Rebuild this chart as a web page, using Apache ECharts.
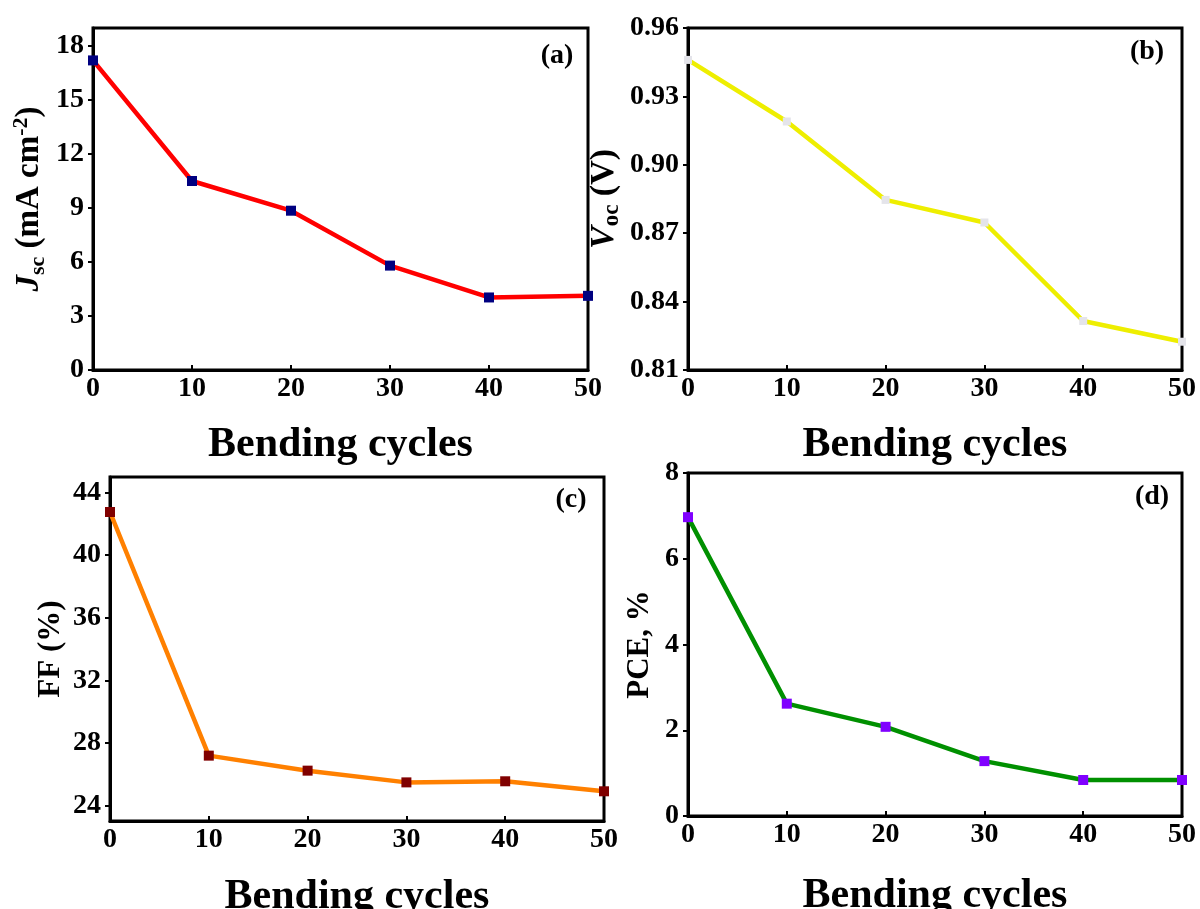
<!DOCTYPE html>
<html>
<head>
<meta charset="utf-8">
<script src="https://cdn.jsdelivr.net/npm/echarts@6/dist/echarts.min.js"></script>
<style>
html,body{margin:0;padding:0;background:#fff;}
#chart{width:1200px;height:909px;}
</style>
</head>
<body>
<div id="chart"></div>
<script>
// ---- data ----
var cycles = [0, 10, 20, 30, 40, 50];
var jsc = [17.2, 10.5, 8.85, 5.8, 4.03, 4.12];
var voc = [0.946, 0.919, 0.8846, 0.8747, 0.8315, 0.8224];
var ff = [42.76, 27.18, 26.22, 25.47, 25.54, 24.9];
var pce = [6.97, 2.62, 2.08, 1.28, 0.84, 0.84];

var xTicks = [0, 10, 20, 30, 40, 50];
var jscTicks = [0, 3, 6, 9, 12, 15, 18];
var vocTicks = [0.81, 0.84, 0.87, 0.90, 0.93, 0.96];
var ffTicks = [24, 28, 32, 36, 40, 44];
var pceTicks = [0, 2, 4, 6, 8];

var xTitle = 'Bending cycles';
var panelLabels = ['(a)', '(b)', '(c)', '(d)'];

var FONT = '"Liberation Serif", "Times New Roman", serif';

function pair(xs, ys) { return xs.map(function (x, i) { return [x, ys[i]]; }); }

var grids = [
  { left: 93, top: 28, width: 495, height: 342 },
  { left: 688, top: 28, width: 494, height: 342 },
  { left: 110, top: 477, width: 494, height: 344 },
  { left: 688, top: 473, width: 494, height: 343 }
];
grids.forEach(function (g) {
  g.show = true; g.borderColor = '#000'; g.borderWidth = 3; g.backgroundColor = 'transparent';
  g.containLabel = false; g.outerBoundsMode = 'none';
});

function xAxis(idx, gap) {
  return {
    type: 'value', gridIndex: idx, min: 0, max: 50, interval: 10,
    name: xTitle, nameLocation: 'middle', nameGap: gap,
    nameTextStyle: { fontFamily: FONT, fontWeight: 'bold', fontSize: 42, color: '#000' },
    axisLine: { show: true, lineStyle: { color: '#000', width: 3 } },
    axisTick: { show: true, inside: true, length: 5, lineStyle: { color: '#000', width: 2 }, customValues: xTicks },
    axisLabel: { fontFamily: FONT, fontWeight: 'bold', fontSize: 28, color: '#000', margin: 5, customValues: xTicks },
    splitLine: { show: false }
  };
}

function yRich(sz, subRatio) {
  var s = Math.round(sz * subRatio);
  return {
    i: { fontFamily: FONT, fontWeight: 'bold', fontStyle: 'italic', fontSize: sz, color: '#000' },
    sub: { fontFamily: FONT, fontWeight: 'bold', fontSize: s, color: '#000', verticalAlign: 'bottom' },
    sup: { fontFamily: FONT, fontWeight: 'bold', fontSize: s, color: '#000', verticalAlign: 'top' }
  };
}

function yAxis(idx, min, max, ticks, name, gap, nameSize, fmt) {
  return {
    type: 'value', gridIndex: idx, min: min, max: max,
    name: name, nameLocation: 'middle', nameGap: gap, nameRotate: 90,
    nameTextStyle: { fontFamily: FONT, fontWeight: 'bold', fontSize: nameSize, color: '#000', lineHeight: nameSize + 6, rich: yRich(nameSize, 0.68) },
    axisLine: { show: true, lineStyle: { color: '#000', width: 3 } },
    axisTick: { show: true, inside: false, length: 5, lineStyle: { color: '#000', width: 2 }, customValues: ticks },
    axisLabel: { fontFamily: FONT, fontWeight: 'bold', fontSize: 28, color: '#000', margin: 9, customValues: ticks,
      formatter: fmt || function (v) { return String(v); } },
    splitLine: { show: false }
  };
}

function lineSeries(idx, data, lineColor, markColor, size) {
  return {
    type: 'line', xAxisIndex: idx, yAxisIndex: idx, data: data,
    symbol: 'rect', symbolSize: size, showAllSymbol: true,
    lineStyle: { color: lineColor, width: 4.5 },
    itemStyle: { color: markColor, borderWidth: 0 },
    clip: false, animation: false, z: 2
  };
}

var labelPos = [[557, 56], [1147, 52], [571, 500], [1152, 497]];

var option = {
  animation: false,
  backgroundColor: '#fff',
  grid: grids,
  xAxis: [xAxis(0, 54), xAxis(1, 54), xAxis(2, 55), xAxis(3, 59)],
  yAxis: [
    yAxis(0, 0, 19, jscTicks, '{i|J}{sub|sc} (mA cm{sup|-2})', 44, 33),
    yAxis(1, 0.81, 0.96, vocTicks, '{i|V}{sub|oc} (V)', 64, 34, function (v) { return v.toFixed(2); }),
    yAxis(2, 23, 45, ffTicks, 'FF (%)', 40, 31),
    yAxis(3, 0, 8, pceTicks, 'PCE, %', 30, 31)
  ],
  series: [
    lineSeries(0, pair(cycles, jsc), '#ff0000', '#000080', 10),
    lineSeries(1, pair(cycles, voc), '#eeee00', '#e4e4ea', 8),
    lineSeries(2, pair(cycles, ff), '#ff8000', '#800000', 10),
    lineSeries(3, pair(cycles, pce), '#009000', '#8000ff', 10)
  ],
  graphic: panelLabels.map(function (t, i) {
    return {
      type: 'text', x: labelPos[i][0], y: labelPos[i][1], z: 10,
      style: { text: t, fontFamily: FONT, fontWeight: 'bold', fontSize: 28, fill: '#000', align: 'center', verticalAlign: 'middle' }
    };
  })
};

var chart = echarts.init(document.getElementById('chart'), null, { renderer: 'canvas' });
chart.setOption(option);
</script>
</body>
</html>
